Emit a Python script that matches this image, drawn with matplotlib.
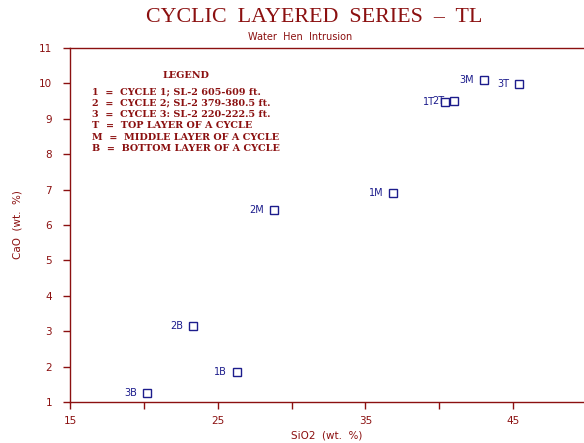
import matplotlib
matplotlib.use("Agg")
import matplotlib.pyplot as plt

# Sample composition (wt. %) for each layer of the three cycles
labels = ["3B", "1B", "2B", "2M", "1M", "1T", "2T", "3M", "3T"]
sio2 = [20.2, 26.3, 23.3, 28.8, 36.9, 40.4, 41.0, 43.0, 45.4]
cao = [1.25, 1.85, 3.15, 6.42, 6.89, 9.48, 9.50, 10.10, 9.98]

legend_title = "LEGEND"
legend_lines = [
    "1  =  CYCLE 1; SL-2 605-609 ft.",
    "2  =  CYCLE 2; SL-2 379-380.5 ft.",
    "3  =  CYCLE 3: SL-2 220-222.5 ft.",
    "T  =  TOP LAYER OF A CYCLE",
    "M  =  MIDDLE LAYER OF A CYCLE",
    "B  =  BOTTOM LAYER OF A CYCLE",
]

xticks = [15, 20, 25, 30, 35, 40, 45]
xticklabels = ["15", "", "25", "", "35", "", "45"]
yticks = list(range(1, 12))

RED = "#8b1010"
BLUE = "#1c1c8c"

fig = plt.figure(figsize=(5.84, 4.43), dpi=100)
ax = fig.add_axes([70 / 584, 41 / 443, 514 / 584, 354 / 443])

ax.plot(sio2, cao, linestyle="none", marker="s", markersize=6,
        markerfacecolor="none", markeredgecolor=BLUE, markeredgewidth=1.0)
for lab, x, y in zip(labels, sio2, cao):
    ax.annotate(lab, (x, y), xytext=(-7, 0), textcoords="offset points",
                ha="right", va="center", fontsize=7, color=BLUE)

ax.set_xlim(15, 49.8)
ax.set_ylim(1, 11)
ax.set_xticks(xticks)
ax.set_xticklabels(xticklabels)
ax.set_yticks(yticks)

for side in ("left", "bottom", "top"):
    ax.spines[side].set_color(RED)
    ax.spines[side].set_linewidth(1.0)
ax.spines["right"].set_visible(False)
ax.tick_params(axis="both", colors=RED, labelcolor=RED, labelsize=7.5,
               length=5, width=1.0, direction="out")
ax.tick_params(axis="x", pad=5)
ax.tick_params(axis="y", pad=8)

ax.set_xlabel("SiO2  (wt.  %)", color=RED, fontsize=7.5, labelpad=3)
ax.set_ylabel("CaO  (wt.  %)", color=RED, fontsize=7.5, labelpad=12)

fig.text(314 / 584, 1 - 17 / 443, "CYCLIC  LAYERED  SERIES  \u2013  TL",
         ha="center", va="center", color=RED, fontsize=15.8,
         family="Liberation Serif")
fig.text(300 / 584, 1 - 37 / 443, "Water  Hen  Intrusion",
         ha="center", va="center", color=RED, fontsize=7)

fig.text(186 / 584, 1 - 76 / 443, legend_title, ha="center", va="center",
         color=RED, fontsize=6.9, family="DejaVu Serif", weight="bold")
for i, line in enumerate(legend_lines):
    fig.text(92 / 584, 1 - (92 + 11.3 * i) / 443, line, ha="left",
             va="center", color=RED, fontsize=6.9,
             family="DejaVu Serif", weight="bold")

fig.savefig("out.png", dpi=100)
